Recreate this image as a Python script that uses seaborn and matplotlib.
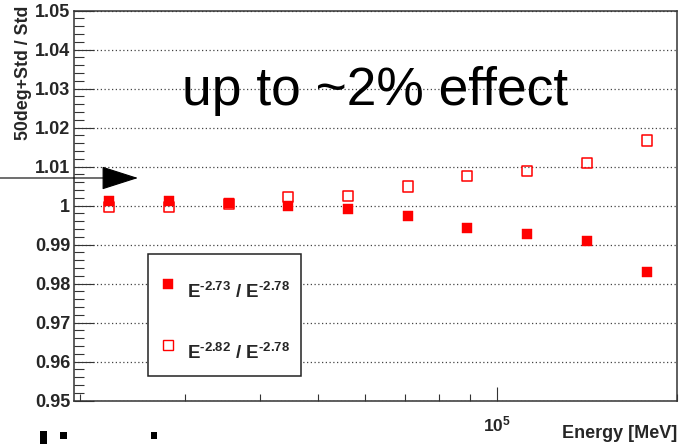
import numpy as np
import pandas as pd
import seaborn as sns
import matplotlib
matplotlib.use("Agg")
import matplotlib.pyplot as plt
from matplotlib.lines import Line2D
from matplotlib.patches import Rectangle
from matplotlib.legend_handler import HandlerLine2D
from matplotlib.ticker import FixedLocator, NullFormatter, FixedFormatter

# Bin centres of the energy spectrum [MeV]
energy = [22387, 28184, 35481, 44668, 56234, 70795, 89125, 112202, 141254, 177828]
# Ratio of the 50deg+Std spectrum to the standard spectrum for two indices
ratio_273 = [1.0012, 1.0012, 1.0006, 0.9998, 0.9991, 0.9973, 0.9942, 0.9928, 0.9908, 0.9830]
ratio_282 = [0.9996, 0.9996, 1.0005, 1.0021, 1.0024, 1.0049, 1.0075, 1.0088, 1.0110, 1.0167]

series_labels = ["$\\mathbf{E^{\u20102.73}}$ / $\\mathbf{E^{\u20102.78}}$",
                 "$\\mathbf{E^{\u20102.82}}$ / $\\mathbf{E^{\u20102.78}}$"]
y_ticks = [0.95, 0.96, 0.97, 0.98, 0.99, 1.00, 1.01, 1.02, 1.03, 1.04, 1.05]
y_tick_labels = ["0.95", "0.96", "0.97", "0.98", "0.99", "1",
                 "1.01", "1.02", "1.03", "1.04", "1.05"]
x_ticks = [1e5]
x_tick_labels = [r"$\mathbf{10^{5}}$"]
x_minor_ticks = [2e4, 3e4, 4e4, 5e4, 6e4, 7e4, 8e4, 9e4, 2e5]
annotation = "up to ~2% effect"

df = pd.DataFrame({"energy": energy, "r273": ratio_273, "r282": ratio_282})

sns.set_style("white")
plt.rcParams["font.family"] = ["Liberation Sans", "DejaVu Sans"]
plt.rcParams["mathtext.fontset"] = "custom"
plt.rcParams["mathtext.rm"] = "Liberation Sans"
plt.rcParams["mathtext.bf"] = "Liberation Sans:bold"
plt.rcParams["mathtext.it"] = "Liberation Sans:italic"

W, H = 679, 445
fig = plt.figure(figsize=(W / 100, H / 100), dpi=100)
fig.patch.set_facecolor("white")
ax = fig.add_axes([73.5 / W, 1 - 400.5 / H, (677 - 73.5) / W, (400.5 - 10.7) / H])
ax.set_facecolor("white")

red = "#ff0000"
sns.scatterplot(data=df, x="energy", y="r273", ax=ax, marker="s", s=58,
                color=red, edgecolor=red, linewidth=0.3, zorder=3)
sns.scatterplot(data=df, x="energy", y="r282", ax=ax, marker="s", s=52,
                facecolor="none", edgecolor=red, linewidth=1.1, zorder=4)

ax.set_xscale("log")
ax.set_xlim(19500, 200000)
ax.set_ylim(0.95, 1.05)

# ROOT-like axes: inward ticks, 5 subdivisions on y
ax.yaxis.set_major_locator(FixedLocator(y_ticks))
ax.yaxis.set_major_formatter(FixedFormatter(y_tick_labels))
ax.yaxis.set_minor_locator(FixedLocator(np.round(np.arange(0.95, 1.0501, 0.002), 4)))
ax.xaxis.set_major_locator(FixedLocator(x_ticks))
ax.xaxis.set_major_formatter(FixedFormatter(x_tick_labels))
ax.xaxis.set_minor_locator(FixedLocator(x_minor_ticks))
ax.xaxis.set_minor_formatter(NullFormatter())

ax.tick_params(axis="both", which="both", bottom=True, left=True, top=False, right=False)
ax.tick_params(axis="y", which="major", direction="in", length=14.4, width=0.8,
               color="#333333", labelsize=13, pad=2.5)
ax.tick_params(axis="y", which="minor", direction="in", length=7.2, width=0.8,
               color="#333333")
ax.tick_params(axis="x", which="major", direction="in", length=10, width=0.8,
               color="#333333", labelsize=12.5, pad=10)
ax.tick_params(axis="x", which="minor", direction="in", length=4.8, width=0.8,
               color="#333333")
for lab in ax.get_yticklabels():
    lab.set_fontweight("bold")

ax.grid(False)
ax.yaxis.grid(True, which="major", linestyle=(0, (1, 2)), linewidth=0.9, color="#444444")
ax.set_axisbelow(True)

for sp in ax.spines.values():
    sp.set_visible(True)
    sp.set_color("#333333")
    sp.set_linewidth(1.1)

ax.set_xlabel("Energy [MeV]", fontsize=13, fontweight="bold", loc="right")
ax.set_ylabel("50deg+Std / Std", fontsize=12.8, fontweight="bold", loc="top")
ax.xaxis.set_label_coords(1.0, (400.5 - 425) / 390)
ax.yaxis.set_label_coords((32 - 73.5) / 603.5, (400.5 - 5) / 390)

ax.text((182 - 73.5) / 603.5, (400.5 - 105) / 390, annotation, transform=ax.transAxes,
        fontsize=38.4, ha="left", va="baseline", color="black", zorder=5)


class RaisedMarkerHandler(HandlerLine2D):
    """Legend key whose marker sits a little higher than the default."""

    def __init__(self, lift, **kw):
        super().__init__(**kw)
        self.lift = lift

    def create_artists(self, legend, orig_handle, xdescent, ydescent, width,
                       height, fontsize, trans):
        artists = super().create_artists(legend, orig_handle, xdescent, ydescent,
                                         width, height, fontsize, trans)
        for a in artists:
            a.set_ydata(np.asarray(a.get_ydata(), dtype=float) + self.lift)
        return artists


handles = [
    Line2D([], [], marker="s", linestyle="none", markersize=7.2,
           markerfacecolor=red, markeredgecolor=red, markeredgewidth=0.3),
    Line2D([], [], marker="s", linestyle="none", markersize=6.6,
           markerfacecolor="none", markeredgecolor=red, markeredgewidth=1.0),
]
leg_fs = 13.5
leg = ax.legend(handles, series_labels, loc="upper left",
                bbox_to_anchor=((158.6 - 73.5) / 603.5, (400.5 - 282.3) / 390),
                borderaxespad=0, borderpad=0, fontsize=leg_fs, frameon=False,
                handlelength=1.0, handleheight=0.7, handletextpad=0.51,
                labelspacing=2.17,
                handler_map={Line2D: RaisedMarkerHandler(lift=5.4)})
for t in leg.get_texts():
    t.set_fontweight("bold")

# Legend frame
ax.add_patch(Rectangle(((148 - 73.5) / 603.5, (400.5 - 376) / 390),
                       (301 - 148) / 603.5, (376 - 254) / 390,
                       transform=ax.transAxes, facecolor="white",
                       edgecolor="#222222", linewidth=1.1, zorder=4.5))
leg.set_zorder(6)

# Arrow pointing into the plot from the left margin
ax.annotate("", xy=(138, H - 178), xytext=(0, H - 178), xycoords="figure pixels",
            textcoords="figure pixels", annotation_clip=False,
            arrowprops=dict(arrowstyle="-|>,head_length=2.38,head_width=0.76",
                            mutation_scale=10, color="black", lw=0.8,
                            shrinkA=0, shrinkB=0))

# Small black marks below the frame
for (x0, y0, w, h) in [(40, 431, 7, 13), (60, 432, 7, 7), (151, 432, 6, 7)]:
    fig.add_artist(Rectangle((x0 / W, 1 - (y0 + h) / H), w / W, h / H,
                             transform=fig.transFigure, color="black", lw=0))

fig.savefig("out.png", dpi=100)
